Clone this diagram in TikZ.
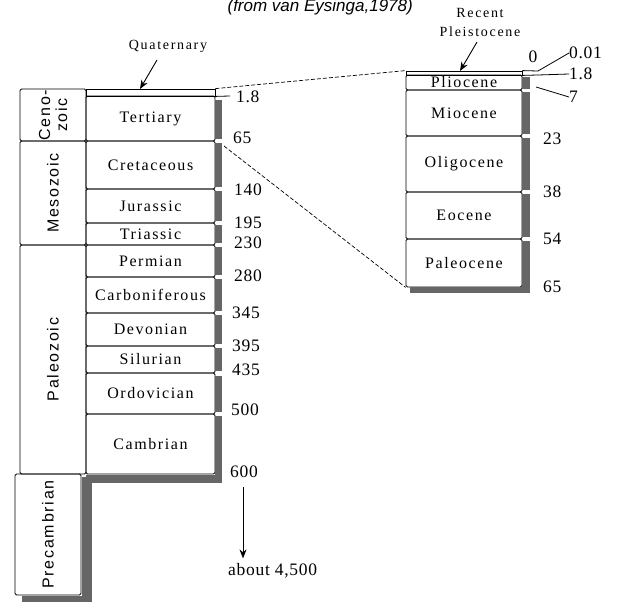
\documentclass[tikz,border=0pt]{standalone}
\usepackage{fontspec}
\setmainfont{Liberation Serif}
\newfontfamily\perfont[LetterSpace=10]{Liberation Serif}
\newfontfamily\numfont[LetterSpace=4]{Liberation Serif}
\newfontfamily\smallfont[LetterSpace=12]{Liberation Serif}
\newfontfamily\erafont[LetterSpace=11]{Liberation Sans}
\newfontfamily\titlefont{Liberation Sans}
\usetikzlibrary{arrows.meta}
\begin{document}
\begin{tikzpicture}[x=1pt,y=-1pt,
  box/.style={draw, line width=0.8pt, inner sep=0pt, rounded corners=1.5pt},
  per/.style={box, minimum width=129pt, font=\perfont\fontsize{16}{19}\selectfont},
  epo/.style={box, minimum width=116pt, font=\perfont\fontsize{16}{19}\selectfont},
  era/.style={box, rotate=90, align=center, font=\erafont\fontsize{16}{17}\selectfont},
  num/.style={anchor=west, inner sep=0pt, font=\numfont\fontsize{17.5}{20}\selectfont},
  small/.style={inner sep=0pt, align=center, font=\smallfont\fontsize{14}{19}\selectfont},
  shd/.style={fill=black!60},
  arr/.style={line width=0.9pt, -{Stealth[length=9pt,width=7pt]}},
  dsh/.style={line width=0.7pt, dash pattern=on 4pt off 2pt},
  rule/.style={line width=0.8pt}]
\useasboundingbox (0,0) rectangle (618,604);

% title
\node[anchor=base east, inner sep=0pt, font=\titlefont\itshape\fontsize{17}{20}\selectfont] (title) at (413,12) {(from van Eysinga,1978)};

% ---------- left column: eras ----------
\node[era, minimum width=52pt, minimum height=66pt] (ceno) at (53,115) {Ceno-\\zoic};
\node[era, minimum width=104pt, minimum height=66pt] (meso) at (53,193) {Mesozoic};
\node[era, minimum width=229pt, minimum height=66pt] (paleo) at (53,359.5) {Paleozoic};
\node[era, minimum width=121pt, minimum height=66pt] (precam) at (48,534.5) {Precambrian};

% ---------- left column: periods ----------
\node[box, minimum width=129pt, minimum height=7pt, rounded corners=0pt] (quat) at (150.5,92.5) {};
\node[per, minimum height=45pt] (tert) at (150.5,118.5) {Tertiary};
\node[per, minimum height=48pt] (cret) at (150.5,165) {Cretaceous};
\node[per, minimum height=34pt] (jura) at (150.5,206) {Jurassic};
\node[per, minimum height=22pt] (tria) at (150.5,234) {Triassic};
\node[per, minimum height=32pt] (perm) at (150.5,261) {Permian};
\node[per, minimum height=36pt] (carb) at (150.5,295) {Carboniferous};
\node[per, minimum height=33pt] (devo) at (150.5,329.5) {Devonian};
\node[per, minimum height=27pt] (silu) at (150.5,359.5) {Silurian};
\node[per, minimum height=41pt] (ordo) at (150.5,393.5) {Ordovician};
\node[per, minimum height=60pt] (camb) at (150.5,444) {Cambrian};

% shadows left
\fill[shd] (215,100) rectangle (222,139);
\fill[shd] (215,143) rectangle (222,187);
\fill[shd] (215,191) rectangle (222,221);
\fill[shd] (215,225) rectangle (222,243);
\fill[shd] (215,247) rectangle (222,275);
\fill[shd] (215,279) rectangle (222,311);
\fill[shd] (215,315) rectangle (222,344);
\fill[shd] (215,348) rectangle (222,371);
\fill[shd] (215,376) rectangle (222,412);
\fill[shd] (215,416) rectangle (222,483);
\fill[shd] (86,475) rectangle (222,483);
\fill[shd] (82,477) rectangle (92,601);
\fill[shd] (22,596) rectangle (92,602);

% 1.8 tick
\coordinate (q18) at (230,96);
\draw[rule] (quat.south east) -- (q18);

% left numbers
\node[num] (n18) at (236,97) {1.8};
\node[num] (n65) at (233,138) {65};
\node[num] (n140) at (234,190) {140};
\node[num] (n195) at (234,223) {195};
\node[num] (n230) at (234,243) {230};
\node[num] (n280) at (234,276) {280};
\node[num] (n345) at (232,313) {345};
\node[num] (n395) at (232,346) {395};
\node[num] (n435) at (232,370) {435};
\node[num] (n500) at (231,410) {500};
\node[num] (n600) at (230,472) {600};
\node[num] (about) at (228,571) {about 4,500};
\coordinate (a1) at (243,487);
\draw[arr, shorten >=5pt] (a1) -- (a1 |- about.north);

% Quaternary label
\node[small] (qlbl) at (168,46) {Quaternary};
\coordinate (qtail) at (157,60);
\coordinate (qtip) at (140,89);
\draw[arr] (qtail) -- (qtip);

% ---------- right column: epochs ----------
\node[box, minimum width=116pt, minimum height=4pt, rounded corners=0pt] (pleist) at (464,73) {};
\node[epo, minimum height=15pt] (plio) at (464,82.5) {Pliocene};
\node[epo, minimum height=46pt] (mio) at (464,113) {Miocene};
\node[epo, minimum height=56pt] (oligo) at (464,164) {Oligocene};
\node[epo, minimum height=47pt] (eoc) at (464,215.5) {Eocene};
\node[epo, minimum height=48pt] (paleoc) at (464,263) {Paleocene};

% shadows right
\fill[shd] (522,77) rectangle (530,89);
\fill[shd] (522,92) rectangle (530,134);
\fill[shd] (522,138) rectangle (530,190);
\fill[shd] (522,194) rectangle (530,237);
\fill[shd] (522,241) rectangle (530,293);
\fill[shd] (410,287) rectangle (530,293);

% right numbers and ticks
\node[inner sep=0pt, font=\numfont\fontsize{17.5}{20}\selectfont] (n0) at (533,57) {0};
\node[num] (n001) at (569,53) {0.01};
\node[num] (n18r) at (569,74) {1.8};
\node[num] (n7) at (569,97) {7};
\node[num] (n23) at (543,139) {23};
\node[num] (n38) at (543,192) {38};
\node[num] (n54) at (543,239) {54};
\node[num] (n65r) at (543,287) {65};
\coordinate (t001) at (538,71);
\coordinate (t18) at (538,75);
\coordinate (t7) at (536,87);
\draw[rule] (pleist.north east) -- (t001);
\draw[rule] (pleist.south east) -- (t18);
\draw[rule] (t001) -- (n001.west);
\draw[rule] (t18) -- (n18r.west);
\draw[rule] (t7) -- (n7.west);

% Recent / Pleistocene label
\node[small] (rec) at (480,22) {Recent\\Pleistocene};
\coordinate (ptail) at (477,42);
\coordinate (ptip) at (460,71);
\draw[arr] (ptail) -- (ptip);

% dashed expansion lines
\coordinate (d2) at (224,146);
\draw[dsh] (quat.north east) -- (pleist.north west);
\draw[dsh] (d2) -- (paleoc.south west);
\end{tikzpicture}
\end{document}
